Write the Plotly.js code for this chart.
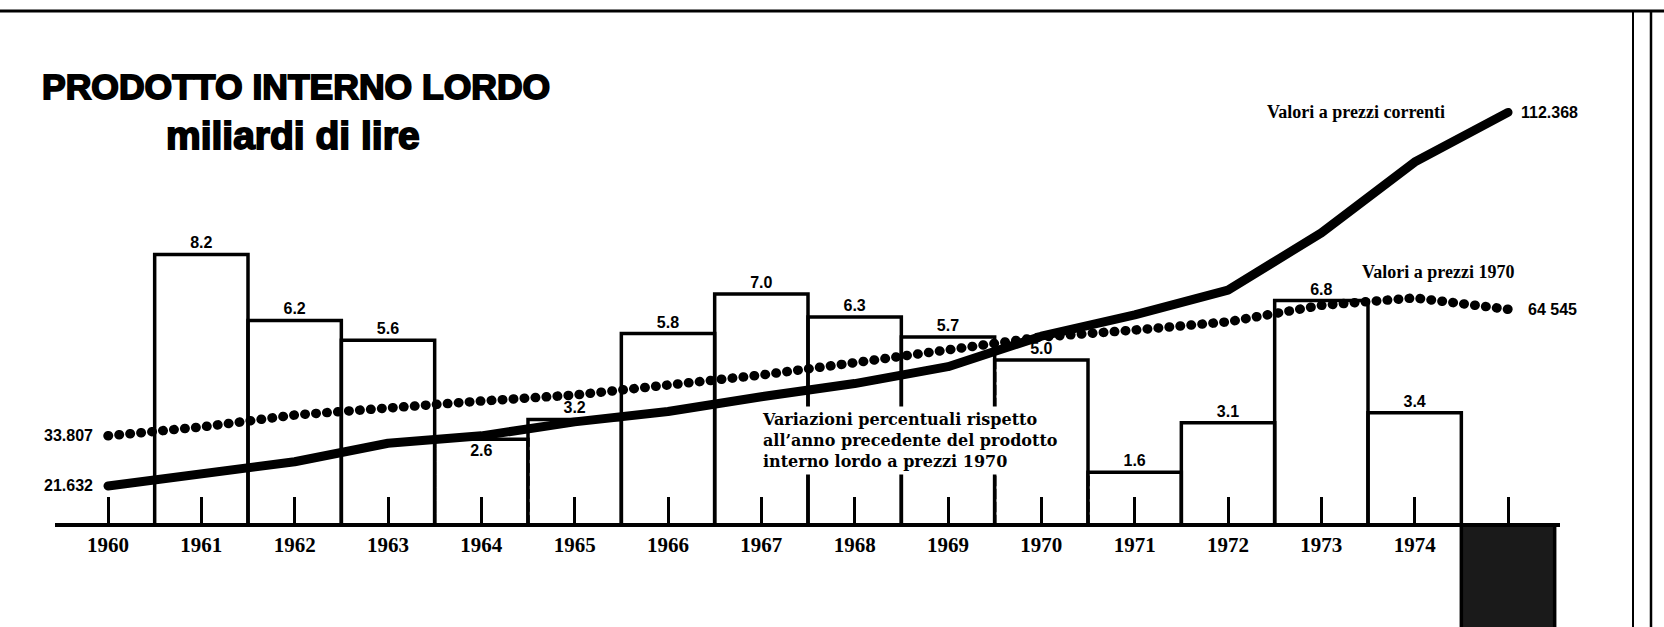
<!DOCTYPE html>
<html>
<head>
<meta charset="utf-8">
<script src="https://cdn.plot.ly/plotly-3.0.1.min.js"></script>
<style>
  html, body { margin: 0; padding: 0; background: #fff; }
  #chart { width: 1664px; height: 627px; }
  .scatterlayer .js-line { stroke-linecap: round; stroke-linejoin: round; }
  .annotation[data-index="0"] text, .annotation[data-index="1"] text { stroke: #000; stroke-width: 1.8px; }
</style>
</head>
<body>
<div id="chart"></div>
<script>
// ---- data ----
const years = [1960, 1961, 1962, 1963, 1964, 1965, 1966, 1967, 1968, 1969, 1970, 1971, 1972, 1973, 1974, 1975];
const yearLabels = ['1960', '1961', '1962', '1963', '1964', '1965', '1966', '1967', '1968', '1969', '1970', '1971', '1972', '1973', '1974', ''];

// GDP, billions of lire
const gdpCurrentPrices = [21632, 24300, 27500, 32000, 33800, 37200, 39700, 43300, 46500, 50600, 58000, 63200, 69200, 83100, 100300, 112368];
const gdp1970Prices = [33807, 35950, 38860, 40800, 42260, 43720, 45900, 48580, 51570, 54650, 57800, 59500, 61500, 65500, 67300, 64545];

// % change on previous year, GDP at 1970 prices
const barYears = [1961, 1962, 1963, 1964, 1965, 1966, 1967, 1968, 1969, 1970, 1971, 1972, 1973, 1974, 1975];
const pctChange = [8.2, 6.2, 5.6, 2.6, 3.2, 5.8, 7.0, 6.3, 5.7, 5.0, 1.6, 3.1, 6.8, 3.4, -3.8];
const pctLabels = ['8.2', '6.2', '5.6', '2.6', '3.2', '5.8', '7.0', '6.3', '5.7', '5.0', '1.6', '3.1', '6.8', '3.4', ''];

const currentEndLabels = ['21.632', '112.368'];
const realEndLabels = ['33.807', '64 545'];

const titleText = 'PRODOTTO INTERNO LORDO';
const subtitleText = 'miliardi di lire';
const currentName = 'Valori a prezzi correnti';
const realName = 'Valori a prezzi 1970';
const noteText = 'Variazioni percentuali rispetto<br>all\u2019anno precedente del prodotto<br>interno lordo a prezzi 1970';

// ---- traces ----
const bars = {
  type: 'bar',
  x: barYears,
  y: pctChange,
  width: 1,
  text: pctLabels,
  textposition: barYears.map(y => y === 1964 ? 'inside' : 'outside'),
  insidetextanchor: 'end',
  textfont: { family: 'Liberation Sans, Arial, sans-serif', size: 16, weight: 'bold', color: '#000' },
  outsidetextfont: { family: 'Liberation Sans, Arial, sans-serif', size: 16, weight: 'bold', color: '#000' },
  insidetextfont: { family: 'Liberation Sans, Arial, sans-serif', size: 16, weight: 'bold', color: '#000' },
  constraintext: 'none',
  cliponaxis: true,
  marker: {
    color: pctChange.map(v => v < 0 ? '#1a1a1a' : '#fff'),
    line: { color: '#000', width: 3.5 },
    pattern: {
      shape: pctChange.map(v => v < 0 ? '' : '.'),
      fillmode: 'replace',
      fgcolor: '#000',
      bgcolor: '#fff',
      size: 13,
      solidity: 0.05
    }
  },
  hoverinfo: 'skip',
  showlegend: false,
  xaxis: 'x', yaxis: 'y'
};

const lineCurrent = {
  type: 'scatter', mode: 'lines',
  x: years, y: gdpCurrentPrices,
  line: { color: '#000', width: 9 },
  name: currentName, showlegend: false, hoverinfo: 'skip',
  xaxis: 'x', yaxis: 'y2'
};

const line1970 = {
  type: 'scatter', mode: 'lines',
  x: years, y: gdp1970Prices,
  line: { color: '#000', width: 9.5, dash: '0.5px,10.5px' },
  name: realName, showlegend: false, hoverinfo: 'skip',
  xaxis: 'x', yaxis: 'y2'
};

// ---- layout ----
const W = 1664, H = 627;
const L = 55, R = 104;
const plotW = W - L - R;
const px = v => (v - L) / plotW;       // page x -> paper x
const py = v => 1 - v / H;             // page y -> paper y

const yMin = -3.0909, yMax = 15.9091;
const y2Min = -12631, y2Max = 139668;

const serif = 'Liberation Serif, Times New Roman, serif';
const sans = 'Liberation Sans, Arial, sans-serif';

const annotations = [
  { xref: 'paper', yref: 'paper', x: px(296), y: py(87), xanchor: 'center', yanchor: 'middle',
    text: titleText, showarrow: false, font: { family: sans, size: 35.5, weight: 'bold', color: '#000' } },
  { xref: 'paper', yref: 'paper', x: px(293), y: py(135), xanchor: 'center', yanchor: 'middle',
    text: subtitleText, showarrow: false, font: { family: sans, size: 39, weight: 'bold', color: '#000' } },
  { xref: 'x', yref: 'y2', x: years[0], y: gdpCurrentPrices[0], xanchor: 'right', yanchor: 'middle', xshift: -13,
    text: currentEndLabels[0], showarrow: false, font: { family: sans, size: 16, weight: 'bold', color: '#000' } },
  { xref: 'x', yref: 'y2', x: years[years.length - 1], y: gdpCurrentPrices[gdpCurrentPrices.length - 1], xanchor: 'left', yanchor: 'middle', xshift: 11,
    text: currentEndLabels[1], showarrow: false, font: { family: sans, size: 16, weight: 'bold', color: '#000' } },
  { xref: 'x', yref: 'y2', x: years[0], y: gdp1970Prices[0], xanchor: 'right', yanchor: 'middle', xshift: -13,
    text: realEndLabels[0], showarrow: false, font: { family: sans, size: 16, weight: 'bold', color: '#000' } },
  { xref: 'x', yref: 'y2', x: years[years.length - 1], y: gdp1970Prices[gdp1970Prices.length - 1], xanchor: 'left', yanchor: 'middle', xshift: 18,
    text: realEndLabels[1], showarrow: false, font: { family: sans, size: 16, weight: 'bold', color: '#000' } },
  { xref: 'paper', yref: 'paper', x: px(1356), y: py(112), xanchor: 'center', yanchor: 'middle',
    text: currentName, showarrow: false, font: { family: serif, size: 18, weight: 'bold', color: '#000' } },
  { xref: 'paper', yref: 'paper', x: px(1438), y: py(272), xanchor: 'center', yanchor: 'middle',
    text: realName, showarrow: false, font: { family: serif, size: 18, weight: 'bold', color: '#000' } },
  { xref: 'paper', yref: 'paper', x: px(758), y: py(440), xanchor: 'left', yanchor: 'middle', align: 'left',
    text: noteText, showarrow: false, bgcolor: '#fff', borderpad: 3,
    font: { family: 'DejaVu Serif, serif', size: 16, weight: 'bold', color: '#000' } }
];

const shapes = [
  { type: 'line', xref: 'paper', yref: 'paper', x0: px(0), x1: px(W), y0: py(11), y1: py(11), line: { color: '#000', width: 3 } },
  { type: 'line', xref: 'paper', yref: 'paper', x0: px(1633), x1: px(1633), y0: py(11), y1: py(H), line: { color: '#000', width: 2 } },
  { type: 'line', xref: 'paper', yref: 'paper', x0: px(1651), x1: px(1651), y0: py(11), y1: py(H), line: { color: '#000', width: 2.5 } }
];

const layout = {
  width: W, height: H,
  margin: { l: L, r: R, t: 0, b: 0, pad: 0, autoexpand: false },
  paper_bgcolor: '#fff', plot_bgcolor: 'rgba(0,0,0,0)',
  showlegend: false,
  bargap: 0,
  xaxis: {
    type: 'linear',
    range: [1959.4321, 1975.5571],
    anchor: 'free', position: (0 - yMin) / (yMax - yMin),
    tickmode: 'array', tickvals: years, ticktext: yearLabels,
    ticks: 'inside', ticklen: 26, tickwidth: 3, tickcolor: '#000',
    showline: true, linecolor: '#000', linewidth: 4,
    showgrid: false, zeroline: false,
    tickfont: { family: serif, size: 21, weight: 'bold', color: '#000' },
    automargin: false, fixedrange: true
  },
  yaxis: {
    range: [yMin, yMax], visible: false, showgrid: false, zeroline: false, fixedrange: true
  },
  yaxis2: {
    range: [y2Min, y2Max], overlaying: 'y', side: 'right', visible: false,
    showgrid: false, zeroline: false, fixedrange: true
  },
  annotations: annotations,
  shapes: shapes
};

Plotly.newPlot('chart', [bars, lineCurrent, line1970], layout, { staticPlot: true, displayModeBar: false });
</script>
</body>
</html>
